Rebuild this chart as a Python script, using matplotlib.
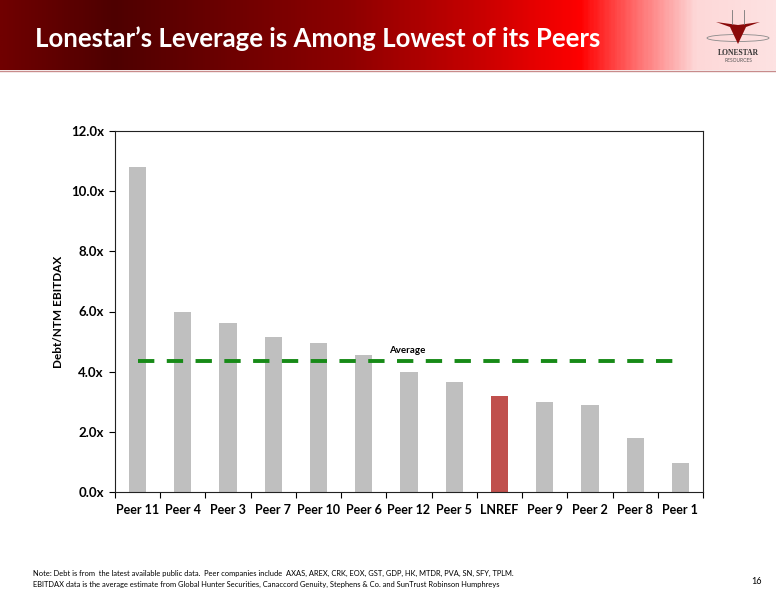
import numpy as np
import matplotlib
matplotlib.use("Agg")
import matplotlib.pyplot as plt
from matplotlib.colors import LinearSegmentedColormap
from matplotlib.patches import Ellipse, Polygon

# data
companies = ["Peer 11", "Peer 4", "Peer 3", "Peer 7", "Peer 10", "Peer 6", "Peer 12",
             "Peer 5", "LNREF", "Peer 9", "Peer 2", "Peer 8", "Peer 1"]
leverage = [10.8, 6.0, 5.62, 5.15, 4.95, 4.55, 4.0, 3.66, 3.2, 3.0, 2.9, 1.8, 0.97]
average = 4.35
highlight = "LNREF"
yticks = [0, 2, 4, 6, 8, 10, 12]

title = "Lonestar\u2019s Leverage is Among Lowest of its Peers"
note1 = ("Note: Debt is from  the latest available public data.  Peer companies include  AXAS, AREX, CRK, EOX, "
         "GST, GDP, HK, MTDR, PVA, SN, SFY, TPLM.")
note2 = ("EBITDAX data is the average estimate from Global Hunter Securities, Canaccord Genuity, "
         "Stephens & Co. and SunTrust Robinson Humphreys")

plt.rcParams["font.family"] = ["Lato", "DejaVu Sans"]

fig = plt.figure(figsize=(7.76, 6), dpi=100)

# header band with gradient
hdr = fig.add_axes([0, 1 - 70 / 600, 1, 70 / 600])
cmap = LinearSegmentedColormap.from_list("hdr", [
    (0.0, "#700000"), (0.145, "#4e0000"), (0.45, "#8e0000"),
    (0.62, "#c80000"), (0.75, "#ff0000"), (0.82, "#ff6a6a"),
    (0.9, "#fdd8d8"), (1.0, "#fde2e2")])
hdr.imshow(np.linspace(0, 1, 400)[None, :], aspect="auto", cmap=cmap, extent=[0, 1, 0, 1])
hdr.set_xlim(0, 1)
hdr.set_ylim(0, 1)
hdr.axis("off")
hdr.text(35 / 776, 0.45, title, color="white", fontsize=18.5, fontweight="bold",
         va="center", ha="left", transform=hdr.transAxes)
fig.add_artist(plt.Line2D([0, 1], [1 - 70.5 / 600] * 2, color="#c88c8c", lw=1))

# simple logo
cx, cy = 738 / 776, 1 - 30 / 600
fig.add_artist(Ellipse((cx, 1 - 38 / 600), 62 / 776, 7 / 600, fill=False,
                       ec="#8a8a8a", lw=0.6, transform=fig.transFigure))
fig.add_artist(Polygon([(cx - 22 / 776, 1 - 22 / 600), (cx - 8 / 776, 1 - 27 / 600),
                        (cx, 1 - 44 / 600), (cx + 8 / 776, 1 - 27 / 600),
                        (cx + 22 / 776, 1 - 22 / 600), (cx, 1 - 25 / 600)],
                       closed=True, fc="#8a0a0a", ec="none", transform=fig.transFigure))
fig.add_artist(plt.Line2D([cx - 6 / 776, cx - 6 / 776], [1 - 10 / 600, 1 - 24 / 600],
                          color="#777777", lw=0.6))
fig.add_artist(plt.Line2D([cx + 6 / 776, cx + 6 / 776], [1 - 10 / 600, 1 - 24 / 600],
                          color="#777777", lw=0.6))
fig.text(cx, 1 - 53 / 600, "LONESTAR", fontsize=5.5, fontweight="bold",
         color="#333333", ha="center", va="center", family=["Liberation Serif"])
fig.text(cx, 1 - 60 / 600, "RESOURCES", fontsize=3.5, color="#555555",
         ha="center", va="center")

# chart
ax = fig.add_axes([115 / 776, 1 - 492 / 600, 588 / 776, 361 / 600])
x = np.arange(len(companies))
colors = ["#c0504d" if c == highlight else "#bfbfbf" for c in companies]
ax.bar(x, leverage, width=0.38, color=colors, zorder=2)
ax.plot([x[0], x[-1]], [average, average], color="#178a17", lw=2.8,
        dashes=(4.2, 3.2), zorder=3)
ax.text(5.55, average + 0.2, "Average", fontsize=7, fontweight="bold",
        ha="left", va="bottom")

ax.set_xlim(-0.5, len(companies) - 0.5)
ax.set_ylim(0, 12)
ax.set_yticks(yticks)
ax.set_yticklabels([f"{v:.1f}x" for v in yticks], fontsize=9.5, fontweight="bold")
ax.set_xticks(x)
ax.set_xticklabels(companies, fontsize=9, fontweight="bold")
ax.set_xticks(np.arange(len(companies) + 1) - 0.5, minor=True)
ax.tick_params(axis="x", which="major", length=0, pad=9)
ax.tick_params(axis="x", which="minor", length=4, width=0.8, direction="out")
ax.tick_params(axis="y", length=4, width=0.8, direction="out", pad=4)
ax.set_ylabel("Debt/NTM EBITDAX", fontsize=8.5, fontweight="bold", labelpad=5)
for sp in ax.spines.values():
    sp.set_linewidth(0.8)
    sp.set_color("#222222")

# footnote
fig.text(33 / 776, 1 - 573 / 600, note1, fontsize=5.4, ha="left", va="center")
fig.text(33 / 776, 1 - 584 / 600, note2, fontsize=5.4, ha="left", va="center")
fig.text(757 / 776, 1 - 582 / 600, "16", fontsize=6.5, ha="center", va="center")

fig.savefig("out.png", dpi=100)
